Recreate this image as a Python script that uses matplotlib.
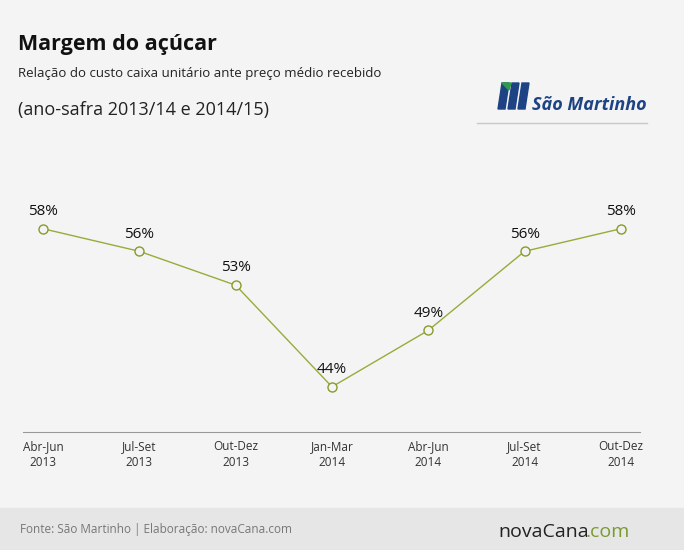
import matplotlib
matplotlib.use("Agg")
import matplotlib.pyplot as plt
from matplotlib.patches import Rectangle, Polygon

periods = ["Abr-Jun\n2013", "Jul-Set\n2013", "Out-Dez\n2013", "Jan-Mar\n2014",
           "Abr-Jun\n2014", "Jul-Set\n2014", "Out-Dez\n2014"]
margins = [58, 56, 53, 44, 49, 56, 58]

W, H = 684, 550
fig = plt.figure(figsize=(W / 100, H / 100), dpi=100, facecolor="#f4f4f4")
plt.rcParams["font.family"] = ["Open Sans", "DejaVu Sans"]

# footer band
fig.patches.append(Rectangle((0, 0), 1, 42 / H, transform=fig.transFigure,
                             color="#e6e6e6", zorder=0))

fig.text(18 / W, 1 - 50 / H, "Margem do açúcar", fontsize=15.5, weight="bold", color="#111")
fig.text(18 / W, 1 - 77 / H, "Relação do custo caixa unitário ante preço médio recebido",
         fontsize=9.5, color="#222")
fig.text(18 / W, 1 - 115 / H, "(ano-safra 2013/14 e 2014/15)", fontsize=13, color="#222")

# logo
fig.text(532 / W, 1 - 110 / H, "São Martinho", fontsize=13, weight="bold", style="italic",
         color="#1d4384")
for i in range(3):
    x0 = 498 + i * 10
    pts = [(x0 + 4, 83), (x0 + 11, 83), (x0 + 7, 109), (x0, 109)]
    fig.patches.append(Polygon([(x / W, 1 - y / H) for x, y in pts], closed=True,
                               transform=fig.transFigure, color="#1d4384"))
fig.patches.append(Polygon([(x / W, 1 - y / H) for x, y in [(502, 83), (511, 83), (509, 90)]],
                           closed=True, transform=fig.transFigure, color="#2f9a48"))
fig.lines.append(plt.Line2D([477 / W, 647 / W], [1 - 123 / H] * 2, transform=fig.transFigure,
                            color="#c8c8c8", lw=1))

ax = fig.add_axes([23 / W, (H - 432) / H, 617 / W, 262 / H])
ax.set_facecolor("none")
x = list(range(len(margins)))
ax.plot(x, margins, color="#9aaa3a", lw=1, marker="o", ms=6.5, mfc="#f4f4f4",
        mec="#8a9a2a", mew=1)
for xi, v in zip(x, margins):
    ax.annotate(f"{v}%", (xi, v), xytext=(0, 7), textcoords="offset points",
                ha="center", va="bottom", fontsize=11, color="#111")
ax.set_xlim(-0.208, 6.198)
ax.set_ylim(40, 63.2)
ax.set_yticks([])
ax.set_xticks(x)
ax.set_xticklabels(periods, fontsize=8.5, color="#333", linespacing=1.3)
ax.tick_params(axis="x", length=0, pad=6)
for s in ["top", "right", "left"]:
    ax.spines[s].set_visible(False)
ax.spines["bottom"].set_color("#999")

fig.text(20 / W, 1 - 533 / H, "Fonte: São Martinho | Elaboração: novaCana.com",
         fontsize=8.5, color="#777")
fig.text(498 / W, 1 - 537 / H, "novaCana", fontsize=14, color="#222")
fig.text(586 / W, 1 - 537 / H, ".com", fontsize=14, color="#7a9a30")

fig.savefig("out.png", dpi=100, facecolor=fig.get_facecolor())
